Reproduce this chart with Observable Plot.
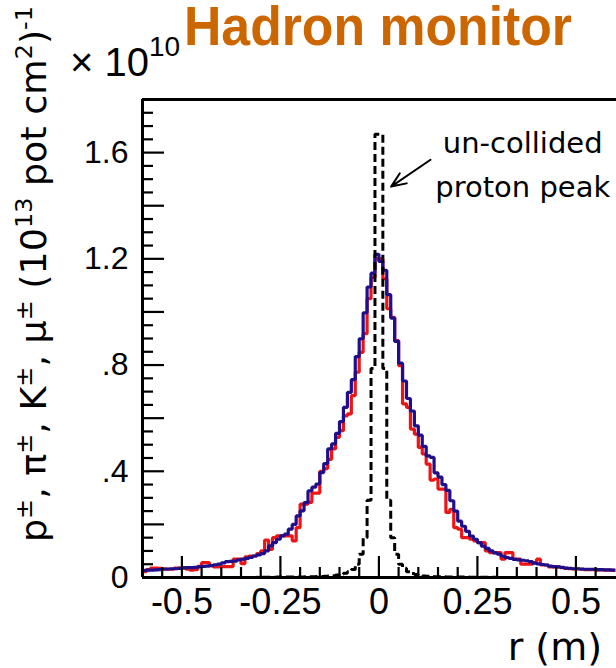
<!DOCTYPE html>
<html>
<head>
<meta charset="utf-8">
<script src="https://cdn.jsdelivr.net/npm/d3@7"></script>
<script src="https://cdn.jsdelivr.net/npm/@observablehq/plot@0.6"></script>
<style>
  body { margin: 0; background: #fff; }
  #chart { width: 616px; height: 668px; overflow: hidden; }
  #chart svg { display: block; }
</style>
</head>
<body>
<div id="chart"></div>
<script>
// ---- histogram binning (120 bins of 0.01 m from -0.6 to 0.6) ----
const binWidth = 0.01;
const xMin = -0.6;

// red histogram, bin values (x 10^10), left to right
const redValues = [
  0.022,0.030,0.035,0.035,0.034,0.033,0.031,0.031,0.035,0.035,
  0.036,0.031,0.028,0.030,0.042,0.056,0.056,0.045,0.040,0.040,
  0.041,0.041,0.041,0.069,0.069,0.052,0.078,0.081,0.081,0.090,
  0.100,0.141,0.106,0.150,0.157,0.157,0.157,0.157,0.138,0.188,
  0.276,0.276,0.283,0.318,0.318,0.400,0.410,0.445,0.484,0.528,
  0.553,0.609,0.616,0.685,0.773,0.848,0.918,1.050,1.130,1.200,
  1.200,1.125,1.012,0.980,0.892,0.798,0.654,0.641,0.559,0.540,
  0.490,0.465,0.427,0.367,0.371,0.333,0.333,0.245,0.257,0.188,
  0.182,0.150,0.150,0.144,0.138,0.131,0.131,0.100,0.094,0.094,
  0.094,0.069,0.094,0.094,0.069,0.069,0.050,0.050,0.050,0.056,
  0.069,0.047,0.047,0.040,0.040,0.040,0.037,0.034,0.033,0.032,
  0.032,0.031,0.030,0.030,0.030,0.029,0.029,0.028,0.028,0.027
];

// blue histogram
const blueValues = [
  0.027,0.028,0.028,0.029,0.030,0.031,0.032,0.033,0.033,0.034,
  0.036,0.037,0.037,0.038,0.040,0.042,0.043,0.045,0.048,0.050,
  0.055,0.060,0.061,0.062,0.066,0.069,0.072,0.076,0.081,0.085,
  0.090,0.100,0.119,0.131,0.144,0.157,0.163,0.182,0.200,0.232,
  0.251,0.282,0.326,0.340,0.352,0.395,0.429,0.484,0.503,0.543,
  0.587,0.641,0.697,0.745,0.832,0.899,0.997,1.094,1.146,1.217,
  1.190,1.157,1.065,0.977,0.889,0.807,0.740,0.674,0.627,0.571,
  0.536,0.494,0.458,0.452,0.394,0.378,0.350,0.328,0.289,0.250,
  0.212,0.193,0.174,0.156,0.144,0.131,0.118,0.110,0.100,0.093,
  0.088,0.080,0.075,0.072,0.068,0.066,0.065,0.063,0.060,0.054,
  0.051,0.049,0.047,0.043,0.041,0.040,0.038,0.035,0.034,0.033,
  0.033,0.032,0.031,0.031,0.031,0.030,0.030,0.029,0.029,0.028
];

// dashed black histogram (un-collided protons)
const protonValues = [
  0,0,0,0,0,0,0,0,0,0,
  0,0,0,0,0,0,0,0,0,0,
  0,0,0,0,0,0,0,0,0,0.001,
  0.001,0.001,0.001,0.001,0.002,0.002,0.002,0.002,0.002,0.002,
  0.002,0.003,0.003,0.003,0.004,0.004,0.005,0.006,0.007,0.009,
  0.012,0.016,0.022,0.030,0.050,0.088,0.150,0.291,0.787,1.669,
  1.669,0.787,0.291,0.150,0.088,0.050,0.035,0.022,0.015,0.011,
  0.008,0.006,0.005,0.004,0.003,0.003,0.003,0.002,0.002,0.002,
  0.002,0.002,0.002,0.001,0.001,0.001,0.001,0.001,0.001,0.001,
  0,0,0,0,0,0,0,0,0,0,
  0,0,0,0,0,0,0,0,0,0,
  0,0,0,0,0,0,0,0,0,0
];

// ---- axes ----
const xTickValues = [-0.5, -0.25, 0, 0.25, 0.5];
const xTickLabels = ["-0.5", "-0.25", "0", "0.25", "0.5"];
const yTickValues = [0, 0.4, 0.8, 1.2, 1.6];
const yTickLabels = ["0", ".4", ".8", "1.2", "1.6"];
const yMajorTicks = [0.2, 0.4, 0.6, 0.8, 1.0, 1.2, 1.4, 1.6];
const xMinorTicks = d3.range(-12, 13).map(i => +(i * 0.05).toFixed(2)).filter(v => !xTickValues.includes(v) && Math.abs(v) < 0.6);
const yMinorTicks = d3.range(1, 36).map(i => +(i * 0.05).toFixed(2)).filter(v => !yMajorTicks.some(m => Math.abs(m - v) < 1e-9));

// ---- texts ----
const titleText = "Hadron monitor";
const xTitle = "r (m)";
const annotationLines = ["un-collided", "proton peak"];
const annotationX = 0.365;
const annotationY = [1.600, 1.434];
const arrowFrom = {x: 0.131, y: 1.573};
const arrowTo = {x: 0.031, y: 1.472};

function steps(values) {
  const pts = values.map((v, i) => ({x: xMin + i * binWidth, y: v}));
  pts.push({x: xMin + values.length * binWidth, y: values[values.length - 1]});
  return pts;
}

const W = 616, H = 668, mT = 99, mB = 91, mL = 142, mR = 0;
const frameH = H - mT - mB, frameW = W - mL - mR;
const lineOpts = {x: "x", y: "y", curve: "step-after", strokeLinejoin: "miter", strokeLinecap: "butt"};

const plot = Plot.plot({
  width: W, height: H,
  marginTop: mT, marginBottom: mB, marginLeft: mL, marginRight: mR,
  x: {domain: [-0.6, 0.603], axis: null},
  y: {domain: [0, 1.8], axis: null},
  style: {fontFamily: "'Liberation Sans', Arial, sans-serif", background: "white", color: "black"},
  marks: [
    Plot.line(steps(redValues), {...lineOpts, stroke: "#ee1414", strokeWidth: 3.2}),
    Plot.line(steps(blueValues), {...lineOpts, stroke: "#1f0f8c", strokeWidth: 3.2}),
    Plot.line(steps(protonValues), {...lineOpts, stroke: "black", strokeWidth: 3, strokeDasharray: "8,4"}),
    // frame
    Plot.ruleY([0, 1.8], {stroke: "black", strokeWidth: 3}),
    Plot.ruleX([-0.6], {stroke: "black", strokeWidth: 3}),
    // inward ticks
    Plot.ruleX(xTickValues, {stroke: "black", strokeWidth: 2.2, insetTop: frameH - 21}),
    Plot.ruleX(xMinorTicks, {stroke: "black", strokeWidth: 2.2, insetTop: frameH - 10}),
    Plot.ruleY(yMajorTicks, {stroke: "black", strokeWidth: 2.2, insetRight: frameW - 22}),
    Plot.ruleY(yMinorTicks, {stroke: "black", strokeWidth: 2.2, insetRight: frameW - 11}),
    // tick labels
    Plot.text(yTickValues, {y: d => d, text: (d, i) => yTickLabels[i], frameAnchor: "left", textAnchor: "end", dx: -14, fontSize: 32, fill: "black"}),
    Plot.text(xTickValues, {x: d => d, text: (d, i) => xTickLabels[i], frameAnchor: "bottom", lineAnchor: "top", dy: 11, fontSize: 36, fill: "black"}),
    // annotation
    Plot.arrow([0], {x1: () => arrowFrom.x, y1: () => arrowFrom.y, x2: () => arrowTo.x, y2: () => arrowTo.y, stroke: "black", strokeWidth: 2, headLength: 14, headAngle: 45}),
    Plot.text(annotationLines, {x: () => annotationX, y: (d, i) => annotationY[i], text: d => d, lineAnchor: "bottom", textAnchor: "middle", fontSize: 29, fontFamily: "'DejaVu Sans', sans-serif", fill: "black"})
  ]
});

const svg = d3.select(plot);
// title
svg.append("text")
  .attr("x", 184).attr("y", 45).attr("text-anchor", "start")
  .attr("font-family", "'Liberation Sans Narrow', 'Liberation Sans', Arial, sans-serif")
  .attr("font-size", 56).attr("font-weight", "bold")
  .attr("fill", "#cc6600")
  .attr("textLength", 388).attr("lengthAdjust", "spacingAndGlyphs")
  .text(titleText);

// x 10^10 multiplier
const mult = svg.append("text").attr("x", 70).attr("y", 76).attr("text-anchor", "start")
  .attr("font-family", "'Liberation Sans', Arial, sans-serif").attr("font-size", 40).attr("fill", "black");
mult.append("tspan").text("\u00d7 10");
mult.append("tspan").attr("font-size", 28).attr("dy", -20).text("10");

// y-axis title (rotated)
const yTitleParts = [["p", 0], ["\u00b1", 1], [", \u03c0", 0], ["\u00b1", 1], [", K", 0], ["\u00b1", 1], [", \u03bc", 0], ["\u00b1", 1],
  [" (10", 0], ["13", 1], [" pot cm", 0], ["2", 1], [")", 0], ["-1", 1]];
const yt = svg.append("text")
  .attr("transform", "translate(46,542) rotate(-90)").attr("text-anchor", "start")
  .attr("font-family", "'DejaVu Sans', sans-serif").attr("font-size", 35).attr("fill", "black")
  .attr("textLength", 536).attr("lengthAdjust", "spacingAndGlyphs");
let raised = false;
for (const [s, sup] of yTitleParts) {
  const t = yt.append("tspan").text(s);
  if (sup && !raised) { t.attr("dy", -14).attr("font-size", 23); raised = true; }
  else if (sup) { t.attr("font-size", 23); }
  else if (!sup && raised) { t.attr("dy", 14); raised = false; }
}

// x-axis title
svg.append("text").attr("x", 602).attr("y", 660).attr("text-anchor", "end")
  .attr("font-family", "'DejaVu Sans', sans-serif").attr("font-size", 38).attr("fill", "black")
  .text(xTitle);

document.getElementById("chart").appendChild(plot);
</script>
</body>
</html>
